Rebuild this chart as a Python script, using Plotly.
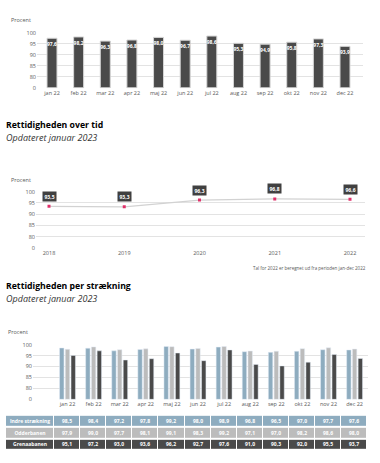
import plotly.graph_objects as go

W, H = 380, 463

# ---------------- data ----------------
months = ["jan 22", "feb 22", "mar 22", "apr 22", "maj 22", "jun 22",
          "jul 22", "aug 22", "sep 22", "okt 22", "nov 22", "dec 22"]
monthly_total = [97.6, 98.2, 96.3, 96.8, 98.0, 96.7, 98.6, 95.3, 94.9, 95.8, 97.3, 93.9]

years = [2018, 2019, 2020, 2021, 2022]
yearly_total = [93.5, 93.3, 96.3, 96.8, 96.6]

route_names = ["Indre strækning", "Odderbanen", "Grenaabanen"]
indre = [98.5, 98.4, 97.2, 97.8, 99.2, 98.0, 98.9, 96.8, 96.5, 97.0, 97.7, 97.6]
odder = [97.9, 99.0, 97.7, 98.1, 99.1, 98.3, 99.2, 97.1, 97.0, 98.2, 98.6, 98.0]
grenaa = [95.1, 97.2, 93.0, 93.6, 96.2, 92.7, 97.6, 91.0, 90.3, 92.0, 95.5, 93.7]

tick_values = [0, 80, 85, 90, 95, 100]
# --------------------------------------

FONT = "Open Sans"
TICKC = "#595959"
GRID = "#e3e3e3"
DARK = "#4a4a4a"
BLUE = "#8eacbf"
GRAY = "#bcbcbc"
PINK = "#e0306a"


def scale(v):
    """Broken axis: 0-80 compressed into one step, then 5 per step."""
    return v / 80 if v < 80 else 1 + (v - 80) / 5


def fmt(v):
    return f"{v:.1f}".replace(".", ",")


def xdom(a, b):
    return [a / W, b / W]


def ydom(px0, px5, lo, hi):
    u = (px0 - px5) / 5.0
    bot = px0 + (0 - lo) * u
    top = px0 - hi * u
    return [1 - bot / H, 1 - top / H]


def xrange_for(dom_a, dom_b, c0, c_last, n):
    u = (c_last - c0) / (n - 1)
    return [-(c0 - dom_a) / u, (n - 1) + (dom_b - c_last) / u]


tv = [scale(t) for t in tick_values]
tt = [str(t) for t in tick_values]
LO, HI = -0.03, 5.03

fig = go.Figure()

# ---- chart 1: monthly bars ----
fig.add_trace(go.Bar(
    x=months, y=[scale(v) for v in monthly_total], width=0.375,
    text=["<b>" + fmt(v) + "</b>" for v in monthly_total], textposition="inside",
    insidetextanchor="end", textangle=0, constraintext="none",
    textfont=dict(color="white", size=5, family=FONT),
    marker=dict(color=DARK, line=dict(color="#d6d6d6", width=1)),
    xaxis="x", yaxis="y", showlegend=False, hoverinfo="skip"))

# ---- chart 2: yearly line ----
fig.add_trace(go.Scatter(
    x=years, y=[scale(v) for v in yearly_total], mode="lines+markers",
    line=dict(color="#d2d2d2", width=1.3),
    marker=dict(symbol="square", size=3, color=PINK),
    xaxis="x2", yaxis="y2", showlegend=False, hoverinfo="skip"))

# ---- chart 3: grouped bars per route ----
for name, vals, col in zip(route_names, [indre, odder, grenaa], [BLUE, GRAY, DARK]):
    fig.add_trace(go.Bar(
        x=list(range(len(months))), y=[scale(v) for v in vals], name=name,
        marker=dict(color=col), xaxis="x3", yaxis="y3",
        showlegend=False, hoverinfo="skip"))

# ---- table (as a heatmap grid aligned with the month columns) ----
COLW = 26.1            # px per month column
LABW = 48              # px of the label column
tab_left, tab_right = 6, 6 + LABW + 12 * COLW
lab_edge = -0.5 - LABW / COLW
x_edges = [lab_edge] + [i - 0.5 for i in range(len(months) + 1)]
rows = [indre, odder, grenaa]
cell_text = [["<b>" + route_names[r] + "</b>"] + ["<b>" + fmt(v) + "</b>" for v in rows[r]]
             for r in range(3)]
cell_z = [[r] * 13 for r in range(3)]
fig.add_trace(go.Heatmap(
    x=x_edges, y=[0, 1, 2], z=cell_z, text=cell_text, texttemplate="%{text}",
    textfont=dict(size=5, color="white", family=FONT),
    colorscale=[[0, BLUE], [0.5, GRAY], [1, DARK]], zmin=0, zmax=2,
    showscale=False, xgap=1, ygap=2, hoverinfo="skip",
    xaxis="x4", yaxis="y4"))

axis_common = dict(showline=False, ticks="", zeroline=False,
                   tickfont=dict(size=5.5, color=TICKC, family=FONT))

yax = dict(axis_common, tickvals=tv, ticktext=tt, range=[LO, HI],
           showgrid=True, gridcolor=GRID, gridwidth=1)

annotations = []
for x, y, txt in [(33, 16, "Procent"), (33, 179, "Procent"), (30, 334, "Procent")]:
    annotations.append(dict(xref="paper", yref="paper", x=x / W, y=1 - y / H,
                            xanchor="right", yanchor="middle", showarrow=False, text=txt,
                            font=dict(size=5.5, color=TICKC, family=FONT)))

for y, txt in [(123, "<b>Rettidigheden over tid</b>"), (287, "<b>Rettidigheden per strækning</b>")]:
    annotations.append(dict(xref="paper", yref="paper", x=4 / W, y=1 - y / H,
                            xanchor="left", yanchor="middle", showarrow=False, text=txt,
                            font=dict(size=8.7, color="black", family=FONT)))
for y in [135.5, 299.5]:
    annotations.append(dict(xref="paper", yref="paper", x=4 / W, y=1 - y / H,
                            xanchor="left", yanchor="middle", showarrow=False,
                            text="<i>Opdateret januar 2023</i>",
                            font=dict(size=9, color="#333333", family=FONT)))

annotations.append(dict(xref="paper", yref="paper", x=368 / W, y=1 - 269 / H,
                        xanchor="right", yanchor="middle", showarrow=False,
                        text="Tal for 2022 er beregnet ud fra perioden jan-dec 2022",
                        font=dict(size=4.5, color=TICKC, family=FONT)))

for yr, v in zip(years, yearly_total):
    annotations.append(dict(xref="x2", yref="y2", x=yr, y=scale(v), yshift=10,
                            showarrow=False, text="<b>" + fmt(v) + "</b>", bgcolor="#404040",
                            borderpad=1.5, font=dict(size=5, color="white", family=FONT)))

fig.update_layout(
    width=W, height=H, margin=dict(l=0, r=0, t=0, b=0),
    paper_bgcolor="white", plot_bgcolor="white",
    font=dict(family=FONT),
    barmode="group", bargap=0.34, bargroupgap=0.23,
    xaxis=dict(axis_common, domain=xdom(37, 363),
               range=xrange_for(37, 363, 52, 345, 12), showgrid=False),
    yaxis=dict(yax, domain=ydom(85.3, 29.5, LO, HI)),
    xaxis2=dict(axis_common, domain=xdom(36, 365), showgrid=False, anchor="y2",
                range=[2018 - (49 - 36) / 75.25, 2022 + (365 - 350) / 75.25],
                tickvals=years, ticktext=[str(y) for y in years]),
    yaxis2=dict(yax, domain=ydom(248.3, 191, LO, HI), anchor="x2"),
    xaxis3=dict(axis_common, domain=xdom(33, 368), showgrid=False,
                range=[-(67.5 - 33) / COLW, -(67.5 - 33) / COLW + (368 - 33) / COLW],
                tickvals=list(range(len(months))), ticktext=months, anchor="y3"),
    yaxis3=dict(yax, domain=ydom(402.3, 346.7, LO, HI), anchor="x3"),
    xaxis4=dict(domain=xdom(tab_left, tab_right), range=[lab_edge, 11.5],
                showgrid=False, zeroline=False, showticklabels=False, anchor="y4"),
    yaxis4=dict(domain=[1 - 454 / H, 1 - 418 / H], range=[2.5, -0.5],
                showgrid=False, zeroline=False, showticklabels=False, anchor="x4"),
    annotations=annotations,
)

fig.write_html("out.html", post_script="document.body.style.margin='0';",
               config={"displayModeBar": False})
